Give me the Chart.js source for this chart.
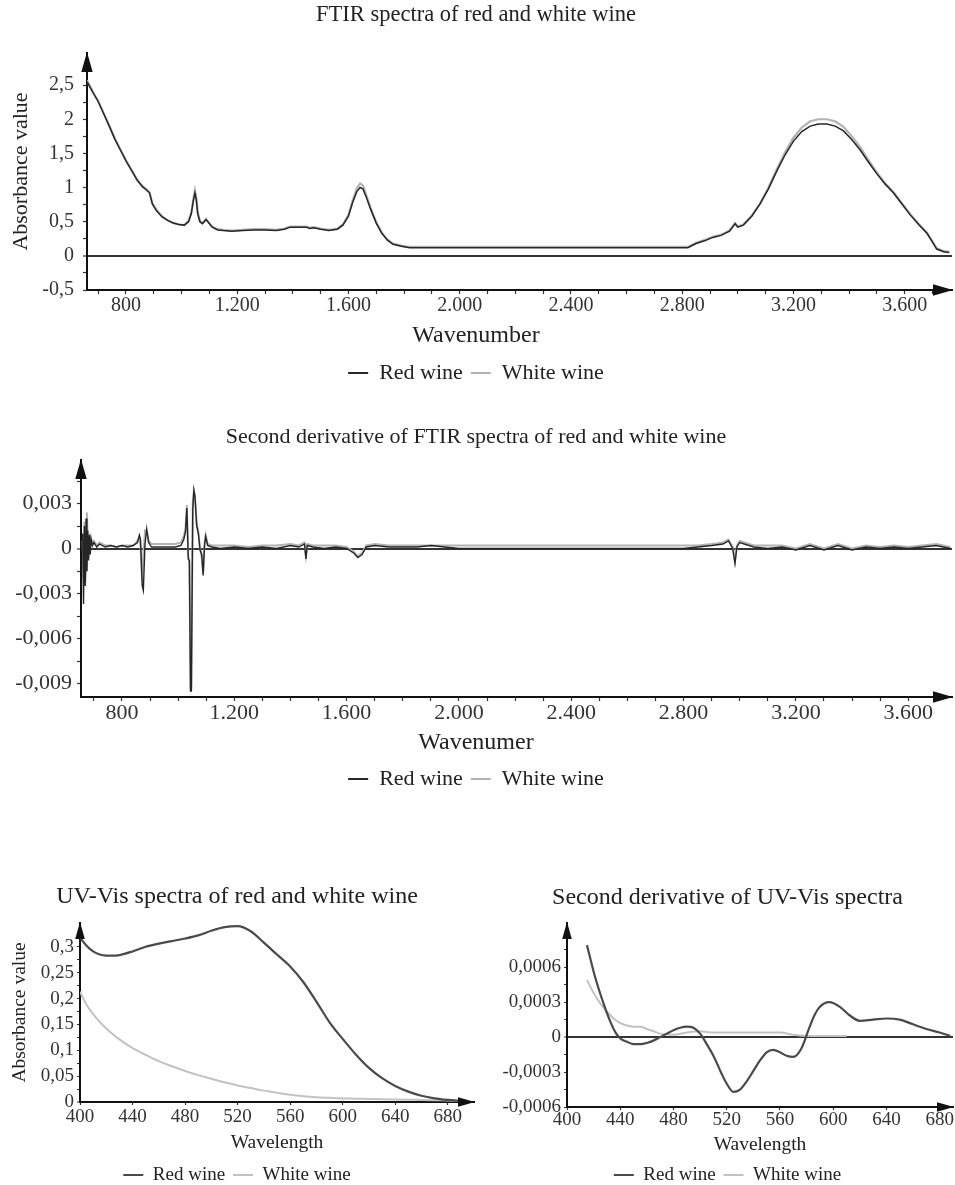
<!DOCTYPE html>
<html><head><meta charset="utf-8">
<script src="https://cdn.jsdelivr.net/npm/chart.js@4.4.1/dist/chart.umd.min.js"></script>
<style>
html,body{margin:0;padding:0;background:#fff;overflow:hidden;width:955px;height:1185px;position:relative;}
</style></head><body>
<script>
// ================= DATA =================
const seriesNames = ['Red wine', 'White wine'];

// FTIR spectra
const ftirWavenumber = [
  660,680,700,720,740,760,780,800,820,840,
  860,875,885,895,910,930,950,970,990,1010,
  1025,1035,1042,1048,1053,1058,1066,1075,1088,1098,
  1110,1130,1150,1180,1220,1260,1300,1340,1370,1390,
  1420,1450,1460,1475,1500,1530,1560,1580,1600,1615,
  1630,1642,1652,1665,1680,1700,1720,1740,1760,1790,
  1820,2000,2400,2820,2850,2880,2910,2940,2970,2990,
  3000,3020,3050,3080,3110,3140,3170,3200,3230,3260,
  3290,3320,3350,3380,3410,3440,3470,3500,3530,3560,
  3590,3620,3650,3680,3700,3715,3740,3760];
const ftirRed = [
  2.55,2.40,2.26,2.08,1.90,1.71,1.55,1.39,1.25,1.11,
  1.01,0.96,0.92,0.76,0.66,0.57,0.52,0.48,0.46,0.45,
  0.50,0.62,0.80,0.92,0.82,0.62,0.50,0.47,0.53,0.48,
  0.42,0.38,0.37,0.36,0.37,0.38,0.38,0.37,0.39,0.42,
  0.42,0.42,0.40,0.41,0.39,0.37,0.39,0.45,0.58,0.78,
  0.94,1.00,0.98,0.85,0.68,0.48,0.33,0.23,0.17,0.14,
  0.12,0.12,0.12,0.12,0.18,0.22,0.27,0.30,0.36,0.47,
  0.42,0.45,0.58,0.76,0.98,1.24,1.48,1.68,1.82,1.90,
  1.93,1.93,1.90,1.83,1.70,1.55,1.37,1.20,1.05,0.92,
  0.76,0.60,0.46,0.33,0.20,0.10,0.06,0.05];
const ftirWhite = [
  2.57,2.41,2.27,2.09,1.91,1.72,1.56,1.40,1.26,1.12,
  1.02,0.97,0.93,0.77,0.67,0.58,0.52,0.48,0.46,0.45,
  0.51,0.63,0.82,0.96,0.85,0.64,0.51,0.48,0.54,0.49,
  0.43,0.39,0.38,0.37,0.38,0.39,0.39,0.38,0.40,0.43,
  0.43,0.43,0.41,0.42,0.40,0.38,0.40,0.46,0.60,0.81,
  0.99,1.06,1.03,0.88,0.70,0.49,0.34,0.24,0.18,0.15,
  0.13,0.13,0.13,0.13,0.19,0.23,0.28,0.31,0.37,0.48,
  0.43,0.46,0.59,0.77,1.00,1.27,1.52,1.73,1.88,1.97,
  2.00,2.00,1.97,1.89,1.75,1.59,1.40,1.22,1.06,0.93,
  0.77,0.61,0.47,0.34,0.21,0.11,0.07,0.06];

// Second derivative of FTIR spectra
const derivWavenumber = [
  660,663,666,669,672,675,678,681,684,687,
  690,695,700,710,720,740,760,780,800,820,
  840,855,862,866,872,876,882,888,895,905,
  930,960,990,1010,1020,1026,1031,1036,1040,1044,
  1047,1052,1056,1060,1066,1072,1078,1084,1089,1094,
  1098,1105,1120,1150,1200,1250,1300,1350,1400,1430,
  1450,1455,1460,1480,1520,1560,1600,1625,1640,1655,
  1670,1700,1750,1800,1850,1900,2000,2200,2400,2600,
  2800,2850,2900,2940,2960,2975,2983,2990,3000,3050,
  3100,3150,3200,3250,3300,3350,3400,3450,3500,3550,
  3600,3650,3700,3750];
const derivRed = [
  0.0010,-0.0037,0.0015,-0.0025,0.0020,-0.0015,0.0012,-0.0008,0.0009,-0.0004,
  0.0006,0.0002,0.0004,0.0001,0.0003,0.0001,0.0002,0.0001,0.0002,0.0001,
  0.0002,0.0004,0.0009,0.0006,-0.0025,-0.0028,0.0003,0.0013,0.0004,0.0001,
  0.0001,0.0001,0.0001,0.0002,0.0006,0.0011,0.0027,-0.0007,-0.0008,-0.0095,
  -0.0095,0.0026,0.0039,0.0035,0.0015,0.0010,-0.0001,-0.0004,-0.0018,0.0002,
  0.0008,0.0002,0.0001,0.0000,0.0001,0.0000,0.0001,0.0000,0.0002,0.0001,
  0.0003,-0.0007,0.0002,0.0001,0.0000,0.0001,0.0000,-0.0003,-0.0006,-0.0004,
  0.0001,0.0002,0.0001,0.0001,0.0001,0.0002,0.0000,0.0000,0.0000,0.0000,
  0.0000,0.0001,0.0002,0.0003,0.0005,0.0000,-0.0010,0.0001,0.0004,0.0001,
  0.0000,0.0001,-0.0001,0.0002,-0.0001,0.0002,-0.0001,0.0001,0.0000,0.0001,
  0.0000,0.0001,0.0002,0.0000];
const derivWhite = [
  0.0005,-0.0020,0.0018,-0.0023,-0.0015,0.0024,0.0005,-0.0006,0.0010,0.0002,
  0.0007,0.0003,0.0005,0.0002,0.0004,0.0002,0.0002,0.0001,0.0002,0.0002,
  0.0002,0.0005,0.0007,0.0001,-0.0022,-0.0004,0.0012,0.0011,0.0005,0.0003,
  0.0003,0.0003,0.0003,0.0004,0.0008,0.0013,0.0029,-0.0005,-0.0009,-0.0093,
  -0.0093,0.0030,0.0038,0.0033,0.0017,0.0011,0.0000,-0.0006,-0.0016,0.0004,
  0.0009,0.0003,0.0002,0.0002,0.0002,0.0001,0.0002,0.0002,0.0003,0.0002,
  0.0004,-0.0005,0.0003,0.0002,0.0002,0.0002,0.0001,-0.0002,-0.0005,-0.0003,
  0.0002,0.0003,0.0002,0.0002,0.0002,0.0002,0.0002,0.0002,0.0002,0.0002,
  0.0002,0.0002,0.0003,0.0004,0.0006,0.0001,-0.0008,0.0002,0.0005,0.0002,
  0.0002,0.0002,0.0000,0.0003,0.0000,0.0003,0.0000,0.0002,0.0001,0.0002,
  0.0001,0.0002,0.0003,0.0001];

// UV-Vis spectra
const uvWavelength = [400,405,410,415,420,425,430,440,450,460,470,480,490,500,510,520,530,540,550,560,570,580,590,600,610,620,630,640,650,660,670,680,690];
const uvRed = [0.318,0.302,0.291,0.285,0.283,0.283,0.284,0.291,0.300,0.306,0.311,0.316,0.322,0.331,0.338,0.340,0.330,0.308,0.285,0.262,0.232,0.194,0.154,0.122,0.092,0.066,0.046,0.031,0.020,0.012,0.007,0.004,0.002];
const uvWhite = [0.213,0.188,0.170,0.155,0.142,0.131,0.121,0.104,0.091,0.079,0.069,0.060,0.052,0.045,0.038,0.032,0.027,0.022,0.018,0.014,0.011,0.009,0.008,0.007,0.0065,0.006,0.0055,0.005,0.0045,0.004,0.0035,0.003,0.002];

// Second derivative of UV-Vis spectra
const uvDerivWavelengthRed = [415,421,428,433,437,441,445,450,455,460,465,470,475,480,485,490,495,500,505,510,516,520,525,530,535,540,545,550,555,560,565,570,576,582,586,590,597,605,612,620,630,640,650,660,670,680,688];
const uvDerivRed = [0.00079,0.00052,0.00027,0.00012,0.00003,-0.00002,-0.00004,-0.00006,-0.00006,-0.00005,-0.00003,0.00000,0.00003,0.00006,0.00008,0.00009,0.00008,0.00003,-0.00006,-0.00016,-0.00031,-0.00040,-0.00047,-0.00045,-0.00038,-0.00029,-0.00020,-0.00013,-0.00011,-0.00013,-0.00016,-0.00017,-0.00010,0.00008,0.00019,0.00026,0.00030,0.00026,0.00019,0.00014,0.00015,0.00016,0.00015,0.00011,0.00007,0.00004,0.00001];
const uvDerivWavelengthWhite = [415,420,425,430,435,440,445,450,455,460,465,470,480,490,500,510,520,540,560,570,580,600,610];
const uvDerivWhite = [0.00049,0.00038,0.00029,0.00022,0.00016,0.00012,0.00010,0.00009,0.00009,0.00007,0.00005,0.00003,0.00002,0.00004,0.00005,0.00004,0.00004,0.00004,0.00004,0.00002,0.00001,0.00001,0.00001];

// Tick labels
const ftirXTicks = [800,1200,1600,2000,2400,2800,3200,3600];
const ftirXLabels = ['800','1.200','1.600','2.000','2.400','2.800','3.200','3.600'];
const ftirYTicks = [-0.5,0,0.5,1,1.5,2,2.5];
const ftirYLabels = ['-0,5','0','0,5','1','1,5','2','2,5'];
const derivYTicks = [-0.009,-0.006,-0.003,0,0.003];
const derivYLabels = ['-0,009','-0,006','-0,003','0','0,003'];
const uvXTicks = [400,440,480,520,560,600,640,680];
const uvXLabels = ['400','440','480','520','560','600','640','680'];
const uvYTicks = [0,0.05,0.1,0.15,0.2,0.25,0.3];
const uvYLabels = ['0','0,05','0,1','0,15','0,2','0,25','0,3'];
const uvDerivYTicks = [-0.0006,-0.0003,0,0.0003,0.0006];
const uvDerivYLabels = ['-0,0006','-0,0003','0','0,0003','0,0006'];

// ================= RENDERING =================
const FONT = '"Liberation Serif","Times New Roman",Times,serif';
const key = v => (Math.abs(v) < 1e-12 ? 0 : v).toFixed(8);

function tickSet(majors, labels, mStart, mEnd, mStep) {
  const map = {};
  majors.forEach((v, i) => map[key(v)] = labels[i]);
  const vals = new Set(majors.map(key));
  if (mStep) {
    const n = Math.round((mEnd - mStart) / mStep);
    for (let i = 0; i <= n; i++) vals.add(key(mStart + i * mStep));
  }
  const values = [...vals].map(Number).sort((a, b) => a - b);
  return { values, label: v => { const l = map[key(v)]; return l === undefined ? '' : l; } };
}

const pts = (xs, ys) => xs.map((x, i) => ({ x, y: ys[i] }));

function arrowPlugin(size) {
  const len = size, half = size * 0.3;
  return {
    id: 'axisArrows',
    afterDraw(chart) {
      const { ctx, chartArea: a } = chart;
      ctx.save();
      ctx.fillStyle = '#111';
      ctx.beginPath();
      ctx.moveTo(a.left, a.top - 1);
      ctx.lineTo(a.left - half, a.top + len);
      ctx.lineTo(a.left + half, a.top + len);
      ctx.closePath(); ctx.fill();
      ctx.beginPath();
      ctx.moveTo(a.right + 1, a.bottom);
      ctx.lineTo(a.right - len, a.bottom - half);
      ctx.lineTo(a.right - len, a.bottom + half);
      ctx.closePath(); ctx.fill();
      ctx.restore();
    }
  };
}

function makeChart(s) {
  const wrap = document.createElement('div');
  wrap.style.cssText = `position:absolute;left:${s.left}px;top:${s.top}px;`;
  const cv = document.createElement('canvas');
  wrap.appendChild(cv);
  document.body.appendChild(wrap);

  const LH = 1.2;
  const tLH = s.title.size * LH;
  const tPadTop = s.title.cy - s.top - tLH / 2;
  const tPadBot = (s.chartTop - s.top) - tPadTop - tLH;
  const lg = s.legend;
  let legendTop, xScaleH, height, legendTitle, scaleTitle;
  if (s.xTitle.mode === 'legend') {
    xScaleH = s.xScaleH;
    legendTop = s.chartBottom + xScaleH;
    const ltLH = s.xTitle.size * LH;
    const ltPadTop = s.xTitle.cy - legendTop - s.xTitle.size / 2;
    const ltPadBot = lg.cy - lg.size / 2 - lg.pad - legendTop - ltLH - ltPadTop;
    legendTitle = { display: true, text: s.xTitle.text, color: '#222',
      font: { family: FONT, size: s.xTitle.size, weight: 'normal' },
      padding: { top: ltPadTop, bottom: ltPadBot } };
    scaleTitle = { display: false };
    height = legendTop + ltLH + ltPadTop + ltPadBot + lg.size + lg.pad + 10 - s.top;
  } else {
    legendTop = lg.cy - lg.size / 2 - lg.pad;
    xScaleH = legendTop - s.chartBottom;
    const stLH = s.xTitle.size * LH;
    scaleTitle = { display: true, text: s.xTitle.text, color: '#222',
      font: { family: FONT, size: s.xTitle.size, weight: 'normal' },
      padding: { top: 0, bottom: legendTop - s.xTitle.cy - stLH / 2 } };
    legendTitle = { display: false };
    height = legendTop + lg.size + lg.pad + 10 - s.top;
  }
  const H = Math.ceil(height);
  const padBottom = H - height;
  cv.width = s.width; cv.height = H;
  cv.style.width = s.width + 'px'; cv.style.height = H + 'px';

  const xt = s.x.ticks, yt = s.y.ticks;
  const tickFont = { family: FONT, size: s.tickSize };

  const datasets = s.datasets.map(d => ({
    label: d.label, data: d.data,
    borderColor: d.color, backgroundColor: d.color,
    borderWidth: d.width, pointBorderColor: d.color, pointBorderWidth: 2,
    pointRadius: 0, pointHoverRadius: 0, fill: false,
    tension: d.tension || 0, cubicInterpolationMode: d.tension ? 'monotone' : 'default'
  }));

  const yTitle = s.yTitle ? {
    display: true, text: s.yTitle.text, color: '#222',
    font: { family: FONT, size: s.yTitle.size, weight: 'normal' },
    padding: { top: s.yTitle.cx - s.left - s.yTitle.size * LH / 2, bottom: 0 }
  } : { display: false };

  return new Chart(cv, {
    type: 'line',
    data: { datasets },
    plugins: [arrowPlugin(s.arrow)],
    options: {
      responsive: false, animation: false, devicePixelRatio: 1, events: [],
      layout: { padding: { left: 0, top: 0, bottom: padBottom, right: s.width - (s.chartRight - s.left) } },
      plugins: {
        tooltip: { enabled: false },
        title: { display: true, text: s.title.text, color: '#222',
          font: { family: FONT, size: s.title.size, weight: 'normal' },
          padding: { top: tPadTop, bottom: tPadBot } },
        legend: { display: true, position: 'bottom', align: 'center',
          title: legendTitle,
          labels: { usePointStyle: true, pointStyle: 'line', pointStyleWidth: 20,
            color: '#222', padding: lg.pad,
            font: { family: FONT, size: lg.size, weight: 'normal' } } }
      },
      scales: {
        x: {
          type: 'linear', min: s.x.min, max: s.x.max,
          afterBuildTicks: sc => { sc.ticks = xt.values.map(v => ({ value: v })); },
          afterFit: sc => { sc.height = xScaleH; },
          ticks: { callback: v => xt.label(v), font: tickFont, color: '#333',
            padding: s.xTickPad, autoSkip: false, maxRotation: 0, minRotation: 0 },
          grid: { drawOnChartArea: false, tickLength: s.xTickLen, tickColor: '#333', tickWidth: 1.2 },
          border: { color: '#111', width: 2 },
          title: scaleTitle
        },
        y: {
          type: 'linear', min: s.y.min, max: s.y.max,
          afterBuildTicks: sc => { sc.ticks = yt.values.map(v => ({ value: v })); },
          afterFit: sc => { sc.width = s.chartLeft - s.left; },
          ticks: { callback: v => yt.label(v), font: tickFont, color: '#333',
            padding: s.yTickPad, autoSkip: false },
          grid: {
            drawOnChartArea: true, tickLength: s.yTickLen, tickColor: '#333', tickWidth: 1.2,
            color: c => (s.zeroLine && c.tick && Math.abs(c.tick.value) < 1e-12) ? '#333' : 'rgba(0,0,0,0)',
            lineWidth: c => (c.tick && Math.abs(c.tick.value) < 1e-12) ? 2 : 1
          },
          border: { color: '#111', width: 2 },
          title: yTitle
        }
      }
    }
  });
}

const RED_DARK = '#262626', WHITE_GREY = '#b3b3b3';

// Chart 1: FTIR spectra
makeChart({
  left: 0, top: 0, width: 955, arrow: 19,
  chartLeft: 87, chartRight: 952, chartTop: 53, chartBottom: 290,
  title: { text: 'FTIR spectra of red and white wine', size: 22.5, cy: 15 },
  yTitle: { text: 'Absorbance value', size: 22, cx: 21 },
  xTitle: { text: 'Wavenumber', size: 24, cy: 336, mode: 'legend' },
  xScaleH: 24,
  legend: { size: 22, cy: 373, pad: 8 },
  tickSize: 20, xTickLen: 4, xTickPad: 0, yTickLen: 4, yTickPad: 9,
  zeroLine: true,
  x: { min: 660, max: 3770, ticks: tickSet(ftirXTicks, ftirXLabels, 700, 3700, 100) },
  y: { min: -0.5, max: 2.97, ticks: tickSet(ftirYTicks, ftirYLabels, -0.5, 2.75, 0.25) },
  datasets: [
    { label: seriesNames[0], data: pts(ftirWavenumber, ftirRed), color: RED_DARK, width: 1.5 },
    { label: seriesNames[1], data: pts(ftirWavenumber, ftirWhite), color: WHITE_GREY, width: 2.2 }
  ]
});

// Chart 2: Second derivative of FTIR
makeChart({
  left: 0, top: 400, width: 955, arrow: 19,
  chartLeft: 81, chartRight: 952, chartTop: 460, chartBottom: 697,
  title: { text: 'Second derivative of FTIR spectra of red and white wine', size: 22, cy: 437 },
  yTitle: null,
  xTitle: { text: 'Wavenumer', size: 24, cy: 743, mode: 'legend' },
  xScaleH: 24,
  legend: { size: 22, cy: 779, pad: 8 },
  tickSize: 22, xTickLen: 4, xTickPad: -1, yTickLen: 4, yTickPad: 5,
  zeroLine: true,
  x: { min: 654, max: 3756, ticks: tickSet(ftirXTicks, ftirXLabels, 700, 3700, 100) },
  y: { min: -0.0099, max: 0.0059, ticks: tickSet(derivYTicks, derivYLabels, -0.009, 0.0045, 0.0015) },
  datasets: [
    { label: seriesNames[0], data: pts(derivWavenumber, derivRed), color: RED_DARK, width: 1.4 },
    { label: seriesNames[1], data: pts(derivWavenumber, derivWhite), color: WHITE_GREY, width: 2 }
  ]
});

// Chart 3: UV-Vis spectra
makeChart({
  left: 0, top: 860, width: 478, arrow: 16,
  chartLeft: 80, chartRight: 474, chartTop: 923, chartBottom: 1102,
  title: { text: 'UV-Vis spectra of red and white wine', size: 24, cy: 897 },
  yTitle: { text: 'Absorbance value', size: 19.5, cx: 20 },
  xTitle: { text: 'Wavelength', size: 19.5, cy: 1143, mode: 'scale' },
  legend: { size: 19, cy: 1175, pad: 8 },
  tickSize: 19, xTickLen: 3, xTickPad: 1, yTickLen: 3, yTickPad: 3,
  zeroLine: false,
  x: { min: 400, max: 700, ticks: tickSet(uvXTicks, uvXLabels) },
  y: { min: 0, max: 0.346, ticks: tickSet(uvYTicks, uvYLabels, 0, 0.325, 0.025) },
  datasets: [
    { label: seriesNames[0], data: pts(uvWavelength, uvRed), color: '#4a4a4a', width: 2.2, tension: 0.4 },
    { label: seriesNames[1], data: pts(uvWavelength, uvWhite), color: '#c2c2c2', width: 2, tension: 0.4 }
  ]
});

// Chart 4: Second derivative of UV-Vis
makeChart({
  left: 502, top: 860, width: 453, arrow: 16,
  chartLeft: 567, chartRight: 953, chartTop: 923, chartBottom: 1107,
  title: { text: 'Second derivative of UV-Vis spectra', size: 24, cy: 898 },
  yTitle: null,
  xTitle: { text: 'Wavelength', size: 19.5, cy: 1145, mode: 'scale' },
  legend: { size: 19, cy: 1175, pad: 8 },
  tickSize: 19, xTickLen: 3, xTickPad: -1, yTickLen: 3, yTickPad: 3,
  zeroLine: true,
  x: { min: 400, max: 690, ticks: tickSet(uvXTicks, uvXLabels) },
  y: { min: -0.0006, max: 0.00098, ticks: tickSet(uvDerivYTicks, uvDerivYLabels, -0.0006, 0.0009, 0.00015) },
  datasets: [
    { label: seriesNames[0], data: pts(uvDerivWavelengthRed, uvDerivRed), color: '#4a4a4a', width: 2.2, tension: 0.4 },
    { label: seriesNames[1], data: pts(uvDerivWavelengthWhite, uvDerivWhite), color: '#c2c2c2', width: 2, tension: 0.4 }
  ]
});
</script>
</body></html>
